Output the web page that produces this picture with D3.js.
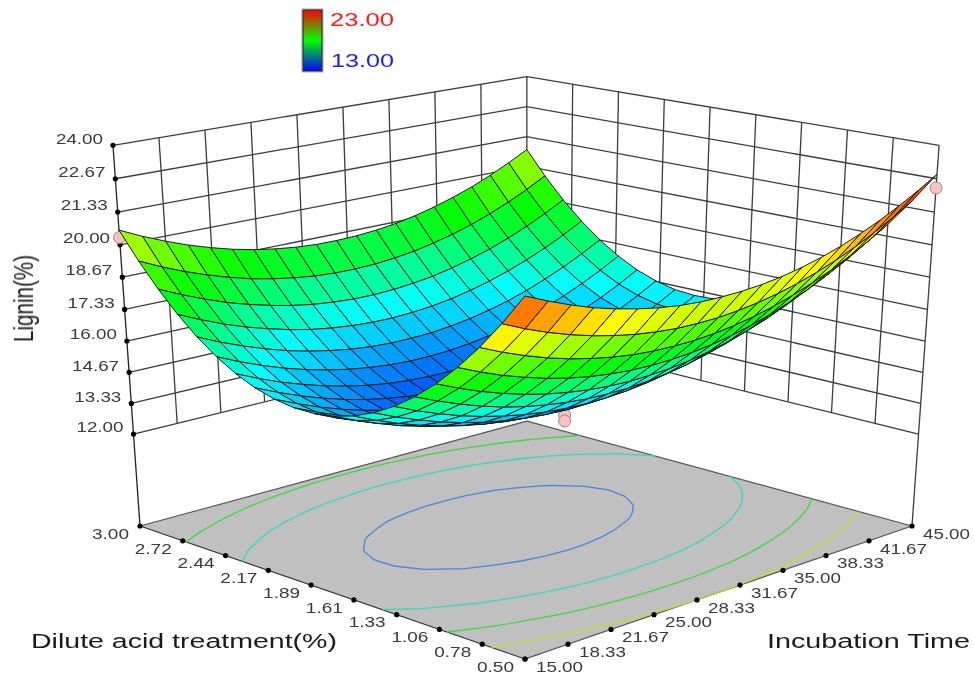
<!DOCTYPE html>
<html>
<head>
<meta charset="utf-8">
<script src="https://cdn.jsdelivr.net/npm/d3@7"></script>
<style>
  body { margin: 0; background: #fff; }
  text { font-family: "Liberation Sans", Arial, sans-serif; }
</style>
</head>
<body>
<svg id="chart" width="974" height="675"></svg>
<script>
// Values
const acidGrid = [3.000, 2.875, 2.750, 2.625, 2.500, 2.375, 2.250, 2.125, 2.000, 1.875, 1.750, 1.625, 1.500, 1.375, 1.250, 1.125, 1.000, 0.875, 0.750, 0.625, 0.500];
const timeGrid = [15.0, 16.5, 18.0, 19.5, 21.0, 22.5, 24.0, 25.5, 27.0, 28.5, 30.0, 31.5, 33.0, 34.5, 36.0, 37.5, 39.0, 40.5, 42.0, 43.5, 45.0];
// one row per acidGrid value, one column per timeGrid value
const ligninRows = [
  [20.60,20.17,19.79,19.45,19.16,18.91,18.71,18.56,18.45,18.39,18.38,18.41,18.48,18.60,18.77,18.99,19.25,19.55,19.91,20.31,20.75],
  [19.52,19.09,18.71,18.38,18.09,17.84,17.65,17.50,17.39,17.33,17.32,17.35,17.43,17.55,17.73,17.94,18.20,18.51,18.87,19.27,19.72],
  [18.56,18.14,17.76,17.42,17.14,16.90,16.70,16.55,16.45,16.39,16.38,16.42,16.50,16.62,16.80,17.02,17.28,17.59,17.95,18.35,18.80],
  [17.72,17.30,16.92,16.59,16.31,16.07,15.87,15.73,15.63,15.57,15.56,15.60,15.68,15.81,15.99,16.21,16.48,16.79,17.15,17.55,18.01],
  [17.00,16.58,16.21,15.88,15.59,15.36,15.17,15.02,14.92,14.87,14.87,14.90,14.99,15.12,15.30,15.52,15.79,16.11,16.47,16.88,17.33],
  [16.40,15.98,15.61,15.28,15.00,14.77,14.58,14.44,14.34,14.29,14.29,14.33,14.42,14.55,14.73,14.96,15.23,15.55,15.91,16.32,16.78],
  [15.92,15.50,15.13,14.81,14.53,14.30,14.11,13.97,13.88,13.83,13.83,13.87,13.96,14.10,14.28,14.51,14.78,15.10,15.47,15.88,16.34],
  [15.56,15.15,14.78,14.46,14.18,13.95,13.77,13.63,13.54,13.49,13.49,13.54,13.63,13.77,13.95,14.18,14.46,14.78,15.15,15.57,16.03],
  [15.32,14.91,14.54,14.22,13.95,13.72,13.54,13.41,13.32,13.27,13.28,13.32,13.42,13.56,13.75,13.98,14.26,14.58,14.95,15.37,15.83],
  [15.20,14.79,14.43,14.11,13.84,13.61,13.44,13.30,13.21,13.17,13.18,13.23,13.33,13.47,13.66,13.89,14.17,14.50,14.87,15.29,15.76],
  [15.20,14.79,14.43,14.12,13.85,13.63,13.45,13.32,13.23,13.19,13.20,13.25,13.35,13.50,13.69,13.93,14.21,14.54,14.91,15.33,15.80],
  [15.32,14.92,14.56,14.24,13.98,13.76,13.58,13.45,13.37,13.33,13.34,13.40,13.50,13.65,13.84,14.08,14.36,14.70,15.07,15.50,15.97],
  [15.56,15.16,14.80,14.49,14.23,14.01,13.84,13.71,13.63,13.59,13.61,13.66,13.77,13.92,14.11,14.35,14.64,14.97,15.35,15.78,16.25],
  [15.92,15.52,15.17,14.86,14.60,14.38,14.21,14.09,14.01,13.97,13.99,14.05,14.15,14.31,14.50,14.75,15.04,15.37,15.75,16.18,16.66],
  [16.40,16.00,15.65,15.34,15.08,14.87,14.70,14.58,14.50,14.47,14.49,14.55,14.66,14.81,15.01,15.26,15.55,15.89,16.27,16.70,17.18],
  [17.00,16.61,16.26,15.95,15.69,15.48,15.32,15.20,15.12,15.10,15.11,15.18,15.29,15.44,15.65,15.89,16.19,16.53,16.92,17.35,17.83],
  [17.72,17.33,16.98,16.68,16.42,16.21,16.05,15.93,15.86,15.83,15.86,15.92,16.03,16.19,16.40,16.65,16.94,17.29,17.68,18.11,18.59],
  [18.56,18.17,17.82,17.53,17.27,17.06,16.90,16.79,16.72,16.70,16.72,16.79,16.90,17.06,17.27,17.52,17.82,18.17,18.56,18.99,19.48],
  [19.52,19.13,18.79,18.49,18.24,18.04,17.88,17.76,17.70,17.68,17.70,17.77,17.89,18.05,18.26,18.52,18.82,19.16,19.56,20.00,20.48],
  [20.60,20.21,19.87,19.58,19.33,19.13,18.97,18.86,18.79,18.78,18.80,18.88,19.00,19.16,19.37,19.63,19.93,20.28,20.68,21.12,21.61],
  [21.80,21.42,21.08,20.78,20.54,20.34,20.18,20.07,20.01,20.00,20.03,20.10,20.22,20.39,20.60,20.86,21.17,21.52,21.92,22.36,22.85]
];
const ligninTicks = ["24.00", "22.67", "21.33", "20.00", "18.67", "17.33", "16.00", "14.67", "13.33", "12.00"];
const acidTicks = ["3.00", "2.72", "2.44", "2.17", "1.89", "1.61", "1.33", "1.06", "0.78", "0.50"];
const timeTicks = ["15.00", "18.33", "21.67", "25.00", "28.33", "31.67", "35.00", "38.33", "41.67", "45.00"];
const contourLevels = [14, 16, 18, 20];
const contourColors = ["#4a86e0", "#35d8c0", "#3fd83f", "#c4dc30"];
// The picture shows the top contour only on the low acid side
const contourAcidLimit = [3, 3, 3, 1.75];
const designAcid = [3.0, 0.5, 1.85, 1.85];
const designTime = [15, 45, 34.2, 34.2];
const designLignin = [20.3, 22.3, 12.0, 11.73];

const svg = d3.select("#chart");

// Perspective frame: floor corners on the page with their depth weights
const cornerFront = [525, 659, 1];
const cornerLeft = [140, 526, 1.134];
const cornerRight = [912, 526, 1.134];
const vanish = [525.5, 5956, -0.0743];

const acidToU = d3.scaleLinear().domain([0.5, 3]).range([0, 1]);
const timeToV = d3.scaleLinear().domain([15, 45]).range([0, 1]);
const ligninToH = d3.scaleLinear().domain([7.91, 24]).range([0, 1]);

const homog = (c) => [c[0] * c[2], c[1] * c[2], c[2]];
const hF = homog(cornerFront), hL = homog(cornerLeft), hR = homog(cornerRight);

function project(acid, time, h) {
  const u = acidToU(acid), v = timeToV(time);
  const out = [0, 1, 2].map(
    (k) =>
      hF[k] + u * (hL[k] - hF[k]) + v * (hR[k] - hF[k]) +
      h * vanish[2] * (k < 2 ? vanish[k] : 1),
  );
  return [out[0] / out[2], out[1] / out[2]];
}
const at = (acid, time, z) => project(acid, time, ligninToH(z));
const floorAt = (acid, time) => project(acid, time, 0);

const line = d3.line();
const closed = d3.line().curve(d3.curveLinearClosed);

const zVals = ligninTicks.map(Number);
const zTop = d3.max(zVals), zLow = d3.min(zVals);

// The source spaces its axis ticks evenly along each edge on the page
const tickFrac = d3.scaleLinear().domain([0, ligninTicks.length - 1]).range([0, 1]);
const along = (p, q, i) => {
  const f = tickFrac(i);
  return [p[0] + (q[0] - p[0]) * f, p[1] + (q[1] - p[1]) * f];
};
const wallLeft = (i, z) => along(at(3, 15, z), at(3, 45, z), i);
const wallRight = (i, z) => along(at(3, 45, z), at(0.5, 45, z), i);
const acidTickAt = (i) => along(floorAt(3, 15), floorAt(0.5, 15), i);
const timeTickAt = (i) => along(floorAt(0.5, 15), floorAt(0.5, 45), i);

// Blur like the upscaled reference
svg.append("defs").append("filter").attr("id", "soft")
  .append("feGaussianBlur").attr("stdDeviation", 0.35);
const root = svg.append("g").attr("filter", "url(#soft)");

// Floor
root.append("path")
  .attr("d", closed([floorAt(0.5, 15), floorAt(3, 15), floorAt(3, 45), floorAt(0.5, 45)]))
  .attr("fill", "#c0c0c0")
  .attr("stroke", "none");

// Floor edges
const edge = (p, q, col) =>
  root.append("path").attr("d", line([p, q])).attr("fill", "none")
    .attr("stroke", col).attr("stroke-width", 1.2);
edge(floorAt(3, 15), floorAt(3, 45), "#555");
edge(floorAt(3, 45), floorAt(0.5, 45), "#555");
edge(floorAt(0.5, 15), floorAt(3, 15), "#333");
edge(floorAt(0.5, 15), floorAt(0.5, 45), "#555");

// Wall grid
const walls = root.append("g").attr("fill", "none").attr("stroke", "#3c3c3c").attr("stroke-width", 1.3);
zVals.forEach((z) => {
  walls.append("path").attr("d", line([at(3, 15, z), at(3, 45, z), at(0.5, 45, z)]));
});
d3.range(1, timeTicks.length).forEach((i) => {
  walls.append("path").attr("d", line([wallLeft(i, zLow), wallLeft(i, zTop)]));
});
d3.range(1, acidTicks.length - 1).forEach((i) => {
  walls.append("path").attr("d", line([wallRight(i, zLow), wallRight(i, zTop)]));
});
// Corner posts go down to the floor
walls.append("path").attr("d", line([at(3, 15, zTop), floorAt(3, 15)])).attr("stroke", "#222");
walls.append("path").attr("d", line([at(0.5, 45, zTop), floorAt(0.5, 45)]));

// Contours on the floor
const nCols = timeGrid.length, nRows = acidGrid.length;
const colToTime = d3.scaleLinear().domain([0, nCols - 1]).range([d3.min(timeGrid), d3.max(timeGrid)]);
const rowToAcid = d3.scaleLinear().domain([0, nRows - 1]).range([d3.max(acidGrid), d3.min(acidGrid)]);
const contourMaker = d3.contours().size([nCols, nRows]).thresholds(contourLevels);
const contours = contourMaker(ligninRows.flat());
contours.forEach((c, ci) => {
  c.coordinates.forEach((poly) => {
    poly.forEach((ring) => {
      let run = [];
      let acids = [];
      const flush = () => {
        if (run.length > 1 && d3.mean(acids) <= contourAcidLimit[ci]) {
          root.append("path").attr("d", line(run)).attr("fill", "none")
            .attr("stroke", contourColors[ci]).attr("stroke-width", 1.3);
        }
        run = [];
        acids = [];
      };
      ring.forEach(([x, y]) => {
        if (x <= 0 || y <= 0 || x >= nCols || y >= nRows) {
          flush();
        } else {
          acids.push(rowToAcid(y - 0.5));
          run.push(floorAt(rowToAcid(y - 0.5), colToTime(x - 0.5)));
        }
      });
      flush();
    });
  });
});

// Axis tick dots
const dots = root.append("g").attr("fill", "#000");
const dot = (p) => dots.append("circle").attr("cx", p[0]).attr("cy", p[1]).attr("r", 2.6);
zVals.forEach((z) => dot(at(3, 15, z)));
acidTicks.forEach((d, i) => dot(acidTickAt(i)));
timeTicks.forEach((d, i) => dot(timeTickAt(i)));

// Design points, behind the surface
function drawPoints() {
  const g = root.append("g");
  const a = designAcid[2], t = designTime[2];
  g.append("path").attr("d", line([at(a, t, designLignin[2]), at(a, t, designLignin[2] + 0.6)]))
    .attr("stroke", "#555").attr("stroke-width", 1);
  designAcid.forEach((acid, i) => {
    const p = at(acid, designTime[i], designLignin[i]);
    g.append("circle").attr("cx", p[0]).attr("cy", p[1]).attr("r", 6)
      .attr("fill", "#ffc0c0").attr("stroke", "#8a8a8a").attr("stroke-width", 1);
  });
}
drawPoints();

// Surface, back to front. Each cell takes the colour of its vertex nearest the viewer
const color = d3.scaleLinear()
  .domain([12.4, 15.5, 18, 20.5, 23])
  .range(["#0000ff", "#00ffff", "#00ff00", "#ffff00", "#ff0000"])
  .clamp(true);
const cells = [];
for (let i = 0; i < nRows - 1; i++) {
  for (let j = nCols - 2; j >= 0; j--) {
    cells.push({ i, j });
  }
}
const vertex = (i, j) => at(acidGrid[i], timeGrid[j], ligninRows[i][j]);
root.append("g")
  .selectAll("path")
  .data(cells)
  .join("path")
  .attr("d", (d) => closed([vertex(d.i, d.j), vertex(d.i, d.j + 1), vertex(d.i + 1, d.j + 1), vertex(d.i + 1, d.j)]))
  .attr("fill", (d) => color(ligninRows[d.i + 1][d.j]))
  .attr("stroke", "#1a1a1a")
  .attr("stroke-width", 1)
  .attr("stroke-linejoin", "round");

// Tick labels
function label(x, y, txt, width, size, col, anchor) {
  root.append("text")
    .attr("x", x).attr("y", y).attr("dy", "0.35em")
    .attr("text-anchor", anchor)
    .attr("font-size", size)
    .attr("fill", col)
    .attr("textLength", width)
    .attr("lengthAdjust", "spacingAndGlyphs")
    .text(txt);
}
zVals.forEach((z, i) => {
  const p = at(3, 15, z);
  label(p[0] - 10, p[1] - 7, ligninTicks[i], 47, 15, "#3a3a3a", "end");
});
acidTicks.forEach((d, i) => {
  const p = acidTickAt(i);
  label(p[0] - 11, p[1] + 7.5, d, 37, 15, "#3a3a3a", "end");
});
timeTicks.forEach((d, i) => {
  const p = timeTickAt(i);
  label(p[0] + 11, p[1] + 7.5, d, 47, 15, "#3a3a3a", "start");
});

// Axis titles
label(31, 641, "Dilute acid treatment(%)", 306, 20, "#1a1a1a", "start");
label(767, 641, "Incubation Time", 203, 20, "#1a1a1a", "start");
root.append("text")
  .attr("transform", "translate(33, 298.5) rotate(-90)")
  .attr("text-anchor", "middle")
  .attr("font-size", 28).attr("fill", "#1a1a1a")
  .attr("textLength", 87).attr("lengthAdjust", "spacingAndGlyphs")
  .text("Lignin(%)");

// Colour key
const grad = svg.select("defs").append("linearGradient")
  .attr("id", "key").attr("x1", 0).attr("x2", 0).attr("y1", 0).attr("y2", 1);
[["0%", "#ff0000"], ["50%", "#00ff00"], ["100%", "#0000ff"]].forEach(([o, c]) => {
  grad.append("stop").attr("offset", o).attr("stop-color", c);
});
root.append("rect")
  .attr("x", 302).attr("y", 9).attr("width", 21).attr("height", 63)
  .attr("fill", "none").attr("stroke", "#aaa").attr("stroke-width", 1);
root.append("rect")
  .attr("x", 303).attr("y", 10).attr("width", 19).attr("height", 61)
  .attr("fill", "url(#key)").attr("stroke", "#333").attr("stroke-width", 1.2);
label(330, 19, "23.00", 64, 19, "#ff1a1a", "start");
label(331, 60, "13.00", 63, 19, "#1a1aff", "start");
</script>
</body>
</html>
